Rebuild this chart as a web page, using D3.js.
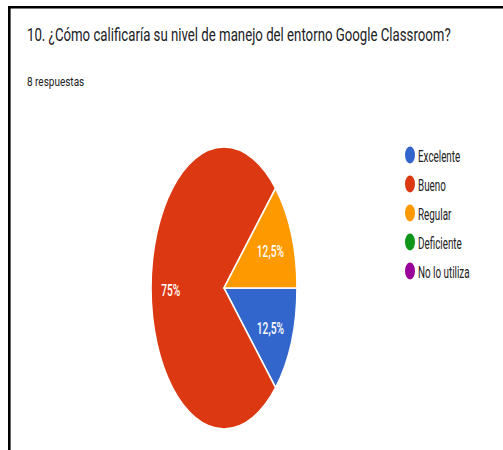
<!DOCTYPE html>
<html>
<head>
<meta charset="utf-8">
<script src="https://cdn.jsdelivr.net/npm/d3@7"></script>
<style>
  html, body { margin: 0; padding: 0; background: #fff; }
  svg { display: block; }
  text { font-family: Roboto, "Noto Sans", Arial, sans-serif; }
</style>
</head>
<body>
<svg id="chart" width="503" height="450"></svg>
<script>
const titleText = "10. ¿Cómo calificaría su nivel de manejo del entorno Google Classroom?";
const subtitleText = "8 respuestas";
const categories = ["Excelente", "Bueno", "Regular", "Deficiente", "No lo utiliza"];
const counts = [1, 6, 1, 0, 0];
const colors = ["#3366cc", "#dc3912", "#ff9900", "#109618", "#990099"];

const svg = d3.select("#chart");
svg.append("rect").attr("width", 503).attr("height", 450).attr("fill", "#fff");

// frame (top and left edges visible in the screenshot)
svg.append("path")
  .attr("d", "M9.3,450 V7.2 H503")
  .attr("fill", "none").attr("stroke", "#000").attr("stroke-width", 2.6);

// place a text at (x,y) and compress it horizontally by factor k (anchor-aware)
function placeSqueezed(sel, k) {
  sel.each(function () {
    const t = d3.select(this);
    const x = +t.attr("data-x"), y = +t.attr("data-y");
    t.attr("x", 0).attr("y", 0)
     .attr("transform", `translate(${x},${y}) scale(${k},1)`);
  });
  return sel;
}

const title = svg.append("text")
  .attr("data-x", 27).attr("data-y", 40.5)
  .attr("font-size", 18).attr("fill", "#202124")
  .text(titleText);
placeSqueezed(title, 0.735);

const sub = svg.append("text")
  .attr("data-x", 27).attr("data-y", 86)
  .attr("font-size", 12.5).attr("fill", "#202124")
  .text(subtitleText);
placeSqueezed(sub, 0.8);

// pie
const total = d3.sum(counts);
const data = categories.map((c, i) => ({ cat: c, value: counts[i], color: colors[i] }));
const cx = 224, cy = 288, ry = 141, rx = 73;
const pie = d3.pie().value(d => d.value).sort(null)
  .startAngle(Math.PI / 2).endAngle(Math.PI / 2 + 2 * Math.PI);
const arcs = pie(data).filter(d => d.data.value > 0);
const arc = d3.arc().innerRadius(0).outerRadius(ry);
const labelArc = d3.arc().innerRadius(ry * 0.71).outerRadius(ry * 0.71);

const gPie = svg.append("g").attr("transform", `translate(${cx},${cy}) scale(${rx / ry},1)`);
gPie.selectAll("path").data(arcs).join("path")
  .attr("d", arc)
  .attr("fill", d => d.data.color)
  .attr("stroke", "#fff").attr("stroke-width", 1.6)
  .attr("vector-effect", "non-scaling-stroke");

function fmtPct(v) {
  const p = v / total * 100;
  const s = Number.isInteger(p) ? String(p) : p.toFixed(1);
  return s.replace(".", ",") + "%";
}

const gLab = svg.append("g").attr("transform", `translate(${cx},${cy})`);
const labs = gLab.selectAll("text").data(arcs).join("text")
  .attr("data-x", d => labelArc.centroid(d)[0] * rx / ry - 1.5)
  .attr("data-y", d => labelArc.centroid(d)[1] + 1.5)
  .attr("text-anchor", "middle")
  .attr("dominant-baseline", "central")
  .attr("font-size", 17).attr("fill", "#fff")
  .attr("font-weight", 500)
  .text(d => fmtPct(d.data.value));
placeSqueezed(labs, 0.6);

// legend
const legend = svg.append("g");
const items = legend.selectAll("g").data(data).join("g")
  .attr("transform", (d, i) => `translate(410,${155 + i * 29})`);
items.append("ellipse").attr("rx", 5).attr("ry", 8.5).attr("fill", d => d.color);
const lt = items.append("text")
  .attr("data-x", 8).attr("data-y", 0.5)
  .attr("dominant-baseline", "central")
  .attr("font-size", 17).attr("fill", "#222")
  .text(d => d.cat);
placeSqueezed(lt, 0.58);
</script>
</body>
</html>
